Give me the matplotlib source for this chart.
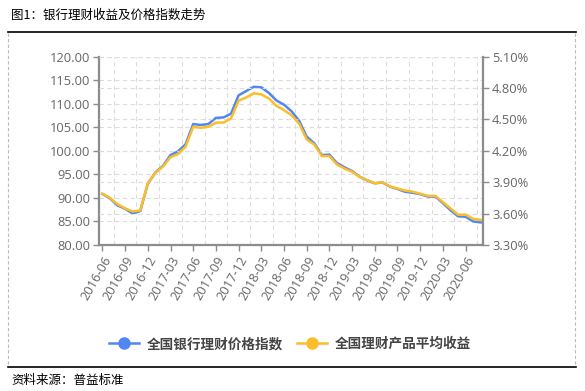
import matplotlib
matplotlib.use("Agg")
import matplotlib.pyplot as plt
from matplotlib.lines import Line2D
from matplotlib.ticker import FuncFormatter

# ── Data ──────────────────────────────────────────────────────────────────────
MONTHS = [f"{y}-{m:02d}" for y in range(2016, 2021) for m in range(1, 13)]
MONTHS = MONTHS[MONTHS.index("2016-06"):MONTHS.index("2020-08") + 1]

price_index = [
    90.85, 89.9, 88.4, 87.7, 86.7, 87.2, 93.0, 95.4, 96.8, 99.1,
    99.9, 101.4, 105.7, 105.5, 105.7, 107.0, 107.1, 107.9, 111.8, 112.7,
    113.6, 113.5, 112.3, 110.7, 109.8, 108.4, 106.4, 103.0, 101.6, 99.1,
    99.2, 97.4, 96.5, 95.7, 94.5, 93.7, 93.1, 93.3, 92.4, 91.9,
    91.3, 91.1, 90.8, 90.3, 90.3, 88.9, 87.4, 86.1, 86.0, 85.0, 84.8,
]
avg_yield = [
    3.79, 3.75, 3.69, 3.65, 3.62, 3.63, 3.89, 3.99, 4.05, 4.14,
    4.17, 4.24, 4.43, 4.42, 4.43, 4.47, 4.47, 4.51, 4.68, 4.71,
    4.75, 4.74, 4.70, 4.63, 4.59, 4.54, 4.46, 4.31, 4.26, 4.15,
    4.15, 4.07, 4.03, 4.00, 3.95, 3.92, 3.89, 3.90, 3.86, 3.84,
    3.82, 3.81, 3.79, 3.77, 3.77, 3.71, 3.65, 3.59, 3.59, 3.55, 3.54,
]

LEFT_TICKS = [80, 85, 90, 95, 100, 105, 110, 115, 120]
RIGHT_TICKS = [3.30, 3.60, 3.90, 4.20, 4.50, 4.80, 5.10]

TITLE = "图1：银行理财收益及价格指数走势"
SOURCE = "资料来源：普益标准"
LABEL_INDEX = "全国银行理财价格指数"
LABEL_YIELD = "全国理财产品平均收益"

BLUE = "#5087F2"
YELLOW = "#FBBD2A"
AXIS_GREY = "#8c8c8c"
TEXT_GREY = "#666666"
GRID_GREY = "#dcdcdc"

plt.rcParams["font.family"] = ["Noto Sans CJK SC", "DejaVu Sans"]

# ── Figure ────────────────────────────────────────────────────────────────────
W, H = 585, 391
fig = plt.figure(figsize=(W / 100, H / 100), dpi=100)


def fx(px):
    return px / W


def fy(py):
    return 1 - py / H


ax = fig.add_axes([fx(99), fy(245), fx(483) - fx(99), fy(56.7) - fy(245)])
ax2 = ax.twinx()

x = list(range(len(MONTHS)))
ax.plot(x, price_index, color=BLUE, lw=1.8, zorder=3)
ax2.plot(x, avg_yield, color=YELLOW, lw=1.8, zorder=3)

ax.set_xlim(-0.45, len(MONTHS) - 0.7)
ax.set_ylim(80, 120)
ax2.set_ylim(3.30, 5.10)
ax.set_yticks(LEFT_TICKS)
ax2.set_yticks(RIGHT_TICKS)
ax.yaxis.set_major_formatter(FuncFormatter(lambda v, p: f"{v:.2f}"))
ax2.yaxis.set_major_formatter(FuncFormatter(lambda v, p: f"{v:.2f}%"))

tick_idx = list(range(0, len(MONTHS), 3))
ax.set_xticks(tick_idx)
ax.set_xticklabels([MONTHS[i] for i in tick_idx], rotation=60, ha="right",
                   rotation_mode="anchor")

# grid: horizontal on both axes, vertical between category ticks
for v in LEFT_TICKS[1:]:
    ax.axhline(v, color=GRID_GREY, lw=0.8, ls=(0, (4, 3)), zorder=0)
for v in RIGHT_TICKS[1:]:
    ax2.axhline(v, color=GRID_GREY, lw=0.8, ls=(0, (4, 3)), zorder=0)
for i in tick_idx:
    if i + 1.5 < len(MONTHS):
        ax.axvline(i + 1.5, color=GRID_GREY, lw=0.8, ls=(0, (4, 3)), zorder=0)

for a in (ax, ax2):
    a.spines["top"].set_visible(False)
    for s in ("left", "right", "bottom"):
        a.spines[s].set_color(AXIS_GREY)
        a.spines[s].set_linewidth(1.6)
    a.tick_params(colors=AXIS_GREY, labelcolor=TEXT_GREY, labelsize=9.3,
                  length=4, width=1, pad=2.5)
ax.spines["right"].set_visible(False)
ax2.spines["left"].set_visible(False)
ax2.spines["bottom"].set_visible(False)
for lab in ax.get_xticklabels() + ax.get_yticklabels() + ax2.get_yticklabels():
    lab.set_family(["Open Sans", "DejaVu Sans"])

# ── Legend ────────────────────────────────────────────────────────────────────
handles = [
    Line2D([], [], color=BLUE, lw=1.8, marker="o", markersize=8),
    Line2D([], [], color=YELLOW, lw=1.8, marker="o", markersize=8),
]
fig.legend(handles, [LABEL_INDEX, LABEL_YIELD], loc="center",
           bbox_to_anchor=(fx(290), fy(344)), ncol=2, frameon=False,
           handlelength=2.2, handletextpad=0.6, columnspacing=1.0,
           prop={"family": ["Noto Sans CJK SC"], "weight": "bold", "size": 9.8},
           labelcolor="#444444")

# ── Frame, title, source ──────────────────────────────────────────────────────
fig.add_artist(Line2D([fx(8), fx(576)], [fy(32), fy(32)], color="black", lw=1.2))
fig.add_artist(Line2D([fx(8), fx(576)], [fy(367), fy(367)], color="black", lw=1.2))
for px in (7.5, 575):
    fig.add_artist(Line2D([fx(px), fx(px)], [fy(33), fy(366)], color="#bbbbbb",
                          lw=0.8, ls=(0, (3, 2))))

fig.text(fx(11), fy(15), TITLE, fontsize=9, color="black", va="center", ha="left")
fig.text(fx(11), fy(380), SOURCE, fontsize=9, color="black", va="center", ha="left")

fig.savefig("out.png", dpi=100)
